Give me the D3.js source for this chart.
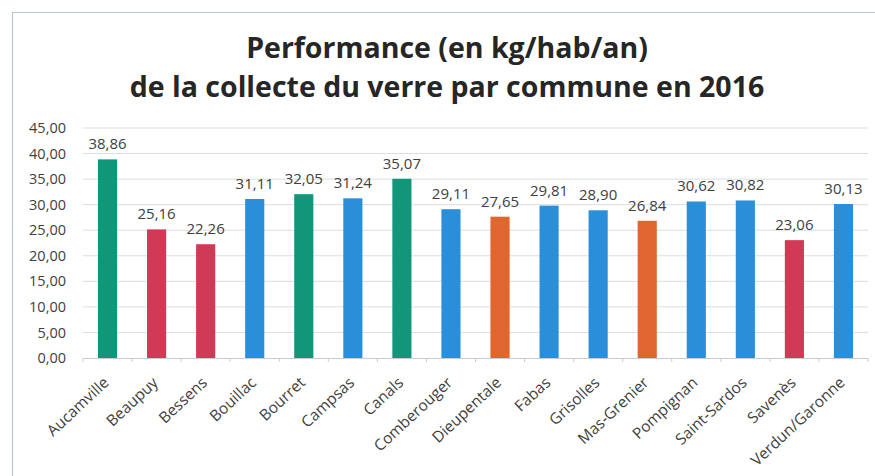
<!DOCTYPE html>
<html>
<head>
<meta charset="utf-8">
<script src="https://cdn.jsdelivr.net/npm/d3@7"></script>
<style>
  html, body { margin: 0; padding: 0; background: #fff; }
  svg { display: block; }
</style>
</head>
<body>
<svg id="chart" width="875" height="476"></svg>
<script>
const communes = ["Aucamville","Beaupuy","Bessens","Bouillac","Bourret","Campsas","Canals","Comberouger","Dieupentale","Fabas","Grisolles","Mas-Grenier","Pompignan","Saint-Sardos","Savenès","Verdun/Garonne"];
const performance = [38.86,25.16,22.26,31.11,32.05,31.24,35.07,29.11,27.65,29.81,28.90,26.84,30.62,30.82,23.06,30.13];
const groups = ["vert","rouge","rouge","bleu","vert","bleu","vert","bleu","orange","bleu","bleu","orange","bleu","bleu","rouge","bleu"];
const yTicks = [0,5,10,15,20,25,30,35,40,45];
const titleLines = ["Performance (en kg/hab/an)","de la collecte du verre par commune en 2016"];

const colorOf = {vert:"#12967a", rouge:"#d03a56", bleu:"#2b8ed8", orange:"#e0652f"};
const fmt = v => v.toFixed(2).replace(".", ",");

const svg = d3.select("#chart");
const font = "'Open Sans', 'Liberation Sans', sans-serif";

// scanned frame
svg.append("path").attr("d","M12.5,476 L12.5,12.5 L875,12.5")
  .attr("fill","none").attr("stroke","#b9c6d6").attr("stroke-width",1.2);

// title
svg.selectAll("text.title").data(titleLines).join("text")
  .attr("class","title")
  .attr("x",447).attr("y",(d,i)=>58+i*39)
  .attr("text-anchor","middle")
  .attr("font-family",font).attr("font-weight","bold").attr("font-size",28.5)
  .attr("fill","#262626").text(d=>d);

const pLeft = 83, pRight = 868, pTop = 128, pBottom = 358;
const x = d3.scaleBand().domain(communes).range([pLeft,pRight]).paddingInner(0.61).paddingOuter(0.305);
const y = d3.scaleLinear().domain([0,45]).range([pBottom,pTop]);

// gridlines
svg.append("g").selectAll("line").data(yTicks.filter(t=>t>0)).join("line")
  .attr("x1",pLeft).attr("x2",pRight)
  .attr("y1",d=>y(d)).attr("y2",d=>y(d))
  .attr("stroke","#dadde3").attr("stroke-width",1);

// y axis labels
const yAxis = d3.axisLeft(y).tickValues(yTicks).tickFormat(fmt).tickSize(0).tickPadding(17);
const ga = svg.append("g").attr("transform",`translate(${pLeft},0)`).call(yAxis);
ga.select(".domain").remove();
ga.selectAll("text").attr("font-family",font).attr("font-size",14.5).attr("fill","#404040");

// bars
svg.append("g").selectAll("rect").data(communes).join("rect")
  .attr("x",d=>x(d)).attr("width",x.bandwidth())
  .attr("y",(d,i)=>y(performance[i])).attr("height",(d,i)=>pBottom-y(performance[i]))
  .attr("fill",(d,i)=>colorOf[groups[i]]);

// value labels
svg.append("g").selectAll("text").data(communes).join("text")
  .attr("x",d=>x(d)+x.bandwidth()/2)
  .attr("y",(d,i)=>y(performance[i])-10)
  .attr("text-anchor","middle")
  .attr("font-family",font).attr("font-size",15).attr("fill","#404040")
  .text((d,i)=>fmt(performance[i]));

// x axis
const step = x.step();
const xAxis = d3.axisBottom(x).tickSize(0).tickPadding(8);
const gx = svg.append("g").attr("transform",`translate(0,${pBottom})`).call(xAxis);
gx.select(".domain").attr("stroke","#c8ccd2");
gx.selectAll("text")
  .attr("font-family",font).attr("font-size",15.5).attr("fill","#404040")
  .attr("text-anchor","end")
  .attr("dy","0")
  .attr("transform","translate(-3,20) rotate(-43)");
// category boundary ticks
svg.append("g").selectAll("line").data(d3.range(communes.length+1)).join("line")
  .attr("x1",i=>pLeft+i*step).attr("x2",i=>pLeft+i*step)
  .attr("y1",pBottom).attr("y2",pBottom+4)
  .attr("stroke","#c8ccd2");
</script>
</body>
</html>
